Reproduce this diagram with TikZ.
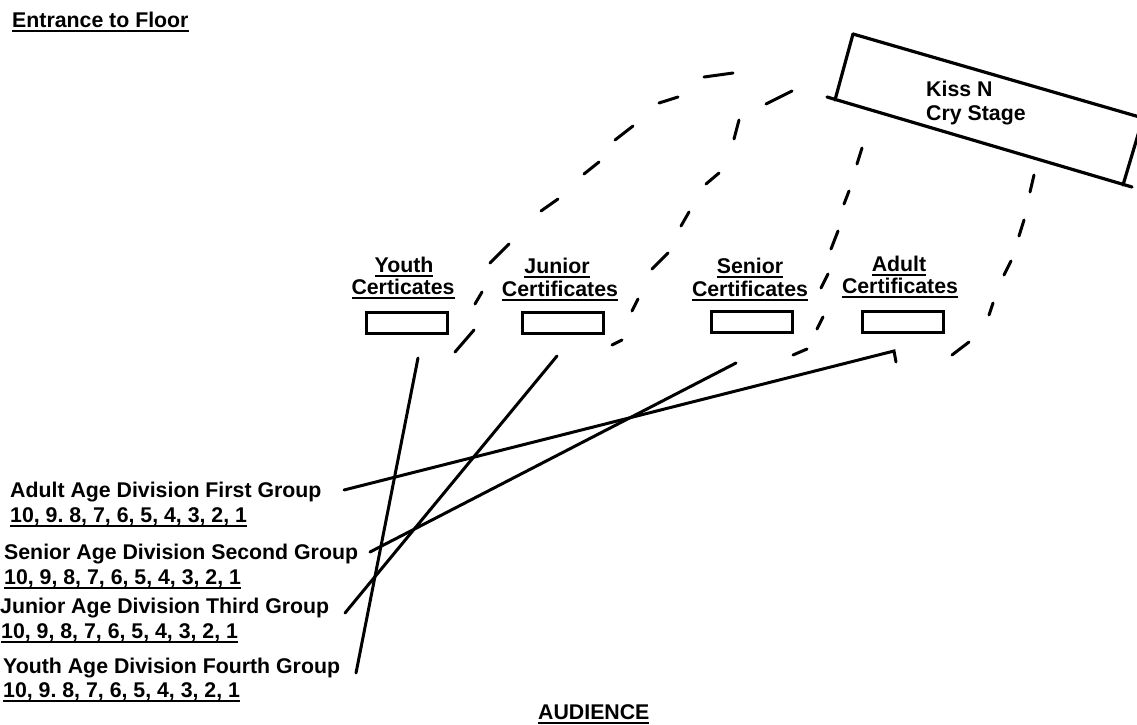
\documentclass[tikz,border=0pt]{standalone}
\usepackage{fontspec}
\setmainfont{Liberation Sans}
\frenchspacing
\newcommand\ulb[1]{\setbox0\hbox{#1}\rlap{\rule[-5pt]{\wd0}{2pt}}\box0}
\begin{document}
\begin{tikzpicture}[x=1pt,y=-1pt,
  txt/.style={inner sep=0pt, font=\bfseries\fontsize{21.3}{24}\selectfont},
  certbox/.style={draw, line width=3pt, minimum width=81pt, minimum height=21pt, inner sep=0pt},
  dashseg/.style={line width=3pt, line cap=round},
  conn/.style={line width=3pt, line cap=round},
  stage/.style={line width=3.2pt, line cap=round}]
\useasboundingbox (0,0) rectangle (1137,724);

% title
\node[txt, anchor=base west] (ent) at (12,27) {\ulb{Entrance to Floor}};

% Kiss N Cry stage
\begin{scope}
\clip (0,0) rectangle (1137,724);
\coordinate (s1) at (853,34);
\coordinate (s2) at (1143,118);
\coordinate (s3) at (1123,185);
\coordinate (s4) at (835,100);
\coordinate (s4o) at (827,97);
\coordinate (s3o) at (1132,187);
\draw[stage] (s1) -- (s2);
\draw[stage] (s1) -- (s4);
\draw[stage] (s4o) -- (s3o);
\draw[stage] (s3) -- (s2);
\end{scope}
\node[txt, anchor=base west] (ks1) at (926,96) {Kiss N};
\node[txt, anchor=base west] (ks2) at (926,120) {Cry Stage};

% certificate labels and boxes
\node[txt, anchor=base] (yl1) at (404,272) {\ulb{Youth}};
\node[txt, anchor=base] (yl2) at (403,294) {\ulb{Certicates}};
\node[certbox] (yb) at (407,323) {};
\node[txt, anchor=base] (jl1) at (557,273) {\ulb{Junior}};
\node[txt, anchor=base] (jl2) at (560,296) {\ulb{Certificates}};
\node[certbox] (jb) at (562.5,322.5) {};
\node[txt, anchor=base] (sl1) at (750,273) {\ulb{Senior}};
\node[txt, anchor=base] (sl2) at (750,296) {\ulb{Certificates}};
\node[certbox] (sb) at (752,322) {};
\node[txt, anchor=base] (al1) at (899,271) {\ulb{Adult}};
\node[txt, anchor=base] (al2) at (900,293) {\ulb{Certificates}};
\node[certbox] (ab) at (902.5,322) {};

% dashed walkways (hand-drawn dashes)
\foreach \a/\b/\c/\d in {455/352/474/330, 475/304/482/292, 490/263/509/244, 541/211/558/199,
  584/174/599/162, 615/140/633/126, 659/103/678/97, 704/77/733/73,
  612/345/622/340, 632/311/638/299, 652/269/668/253, 681/226/689/212,
  706/184/719/173, 734/139/739/120, 766/104/792/91,
  793/355/807/349, 817/329/823/317, 821/288/828/274, 831/249/838/231,
  844/204/849/191, 857/164/862/148,
  952/355/969/342, 989/315/993/303, 1004/275/1011/261, 1019/236/1024/220, 1030/192/1034/175}
  \draw[dashseg] (\a,\b) -- (\c,\d);

% age division labels
\node[txt, anchor=base west] (ad1) at (10,497) {Adult Age Division First Group};
\node[txt, anchor=base west] (ad2) at (10,522) {\ulb{10, 9. 8, 7, 6, 5, 4, 3, 2, 1}};
\node[txt, anchor=base west] (sd1) at (4,559) {Senior Age Division Second Group};
\node[txt, anchor=base west] (sd2) at (4,584) {\ulb{10, 9, 8, 7, 6, 5, 4, 3, 2, 1}};
\node[txt, anchor=base west] (jd1) at (0,613) {Junior Age Division Third Group};
\node[txt, anchor=base west] (jd2) at (1,638) {\ulb{10, 9, 8, 7, 6, 5, 4, 3, 2, 1}};
\node[txt, anchor=base west] (yd1) at (3,673) {Youth Age Division Fourth Group};
\node[txt, anchor=base west] (yd2) at (3,697) {\ulb{10, 9. 8, 7, 6, 5, 4, 3, 2, 1}};

\node[txt, anchor=base west] (aud) at (538,719) {\ulb{AUDIENCE}};

% connectors
\coordinate (yc) at (418,358);
\coordinate (yd) at (356,673);
\coordinate (jc) at (557,356);
\coordinate (jd) at (345,613);
\coordinate (sc) at (736,363);
\coordinate (sd) at (370,552);
\coordinate (ac) at (894,351);
\coordinate (ach) at (896,362);
\coordinate (ad) at (344,490);
\draw[conn] (yd) -- (yc);
\draw[conn] (jd) -- (jc);
\draw[conn] (sd) -- (sc);
\draw[conn] (ad) -- (ac) -- (ach);
\end{tikzpicture}
\end{document}
